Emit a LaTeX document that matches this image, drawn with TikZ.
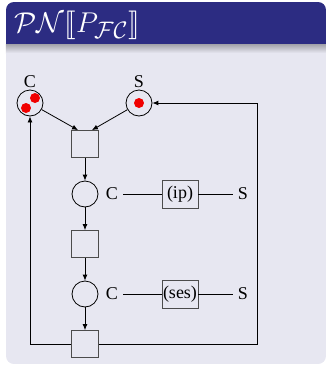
\documentclass[tikz,border=0pt]{standalone}
\usepackage{amsmath}
\usepackage{stmaryrd}
\usepackage{fontspec}
\setmainfont{Liberation Serif}
\usepackage{tikz}
\usetikzlibrary{positioning,arrows.meta,calc}
\usepackage{xcolor}
\definecolor{blocktitle}{RGB}{44,44,130}
\definecolor{blockbody}{RGB}{231,231,241}
\definecolor{token}{RGB}{240,0,0}

\begin{document}
\begin{tikzpicture}[
        x=1pt, y=-1pt,
        font=\fontsize{18}{20}\selectfont,
        place/.style={
            circle,
            draw=black,
            line width=0.8pt,
            minimum size=26pt,
            inner sep=0pt
        },
        trans/.style={
            draw=black!70,
            line width=0.8pt,
            minimum width=27pt,
            minimum height=27pt,
            inner sep=0pt
        },
        msg/.style={
            draw=black!70,
            line width=0.8pt,
            minimum width=36pt,
            minimum height=28pt,
            inner sep=1pt
        },
        lbl/.style={
            inner sep=1pt
        },
        tok/.style={
            fill=token
        },
        arr/.style={
            -{Latex[length=6pt,width=5pt]},
            line width=0.8pt,
            draw=black
        },
        wire/.style={
            line width=0.8pt,
            draw=black
        }
    ]
    \useasboundingbox (0,0) rectangle (328,368);
    
    % =========================
    % Block frame
    % =========================
    \begin{scope}
    \clip[rounded corners=8pt] (6,2) rectangle (326,364);
    \fill[blockbody] (6,2) rectangle (326,364);
    \fill[blocktitle] (6,2) rectangle (326,44);
    \shade[top color=black!30!blockbody, bottom color=blockbody] (6,44) rectangle (326,53);
    \end{scope}
    
    \node[anchor=west, text=white, font=\fontsize{24.88}{26}\selectfont] (head) at (11,25)
        {\scalebox{1.15}{$\mathcal{PN}\llbracket P_{\mathcal{FC}}\rrbracket$}};
    
    % =========================
    % Net
    % =========================
    \node[place] (pC) at (30,103) {};
    \node[place] (pS) at (139,103) {};
    \node[lbl, above=1pt of pC] (lC) {C};
    \node[lbl, above=1pt of pS] (lS) {S};
    
    \fill[tok] ($(pC)+(5,-5)$) circle (5);
    \fill[tok] ($(pC)+(-4,5)$) circle (5);
    \fill[tok] (pS) circle (5);
    
    \node[trans] (t1) at (85,144) {};
    \node[place] (p1) at (85,194) {};
    \node[trans] (t2) at (85,244) {};
    \node[place] (p2) at (85,294) {};
    \node[trans] (t3) at (85,344) {};
    
    \draw[arr] (pC) -- ($(t1.north)!0.5!(t1.north west)$);
    \draw[arr] (pS) -- ($(t1.north)!0.5!(t1.north east)$);
    \draw[arr] (t1) -- (p1);
    \draw[arr] (p1) -- (t2);
    \draw[arr] (t2) -- (p2);
    \draw[arr] (p2) -- (t3);
    
    % feedback
    \draw[arr] (t3.west) -| (pC.south);
    \coordinate (back) at (257,103);
    \draw[arr] (t3.east) -| (back) -- (pS.east);
    
    % =========================
    % Messages
    % =========================
    \node[lbl] (c1) at (112,194) {C};
    \node[msg] (m1) at (180,194) {(ip)};
    \node[lbl] (s1) at (243,194) {S};
    \draw[wire] ($(c1.east)+(4,0)$) -- (m1);
    \draw[wire] (m1) -- ($(s1.west)+(-4,0)$);
    
    \node[lbl] (c2) at (112,294) {C};
    \node[msg] (m2) at (180,294) {(ses)};
    \node[lbl] (s2) at (243,294) {S};
    \draw[wire] ($(c2.east)+(4,0)$) -- (m2);
    \draw[wire] (m2) -- ($(s2.west)+(-4,0)$);
    
\end{tikzpicture}
\end{document}
